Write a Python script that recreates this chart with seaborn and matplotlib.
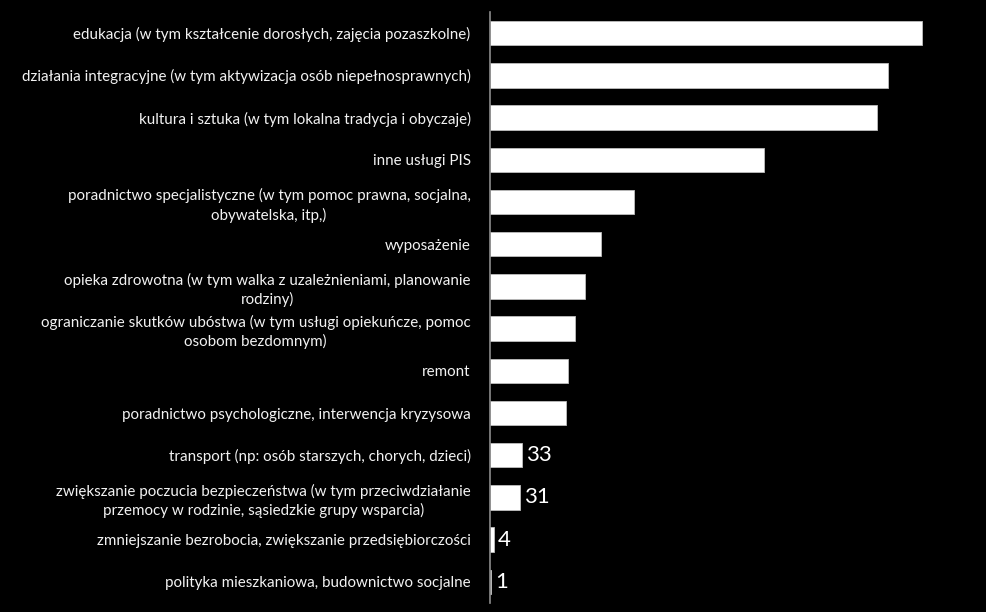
import numpy as np
import pandas as pd
import seaborn as sns
from matplotlib import pyplot as plt

categories = [
    "edukacja (w tym kształcenie dorosłych, zajęcia pozaszkolne)",
    "działania integracyjne (w tym aktywizacja osób niepełnosprawnych)",
    "kultura i sztuka (w tym lokalna tradycja i obyczaje)",
    "inne usługi PIS",
    "poradnictwo specjalistyczne (w tym pomoc prawna, socjalna,\nobywatelska, itp,)",
    "wyposażenie",
    "opieka zdrowotna (w tym walka z uzależnieniami, planowanie\nrodziny)",
    "ograniczanie skutków ubóstwa (w tym usługi opiekuńcze, pomoc\nosobom bezdomnym)",
    "remont",
    "poradnictwo psychologiczne, interwencja kryzysowa",
    "transport (np: osób starszych, chorych, dzieci)",
    "zwiększanie poczucia bezpieczeństwa (w tym przeciwdziałanie\nprzemocy w rodzinie, sąsiedzkie grupy wsparcia)",
    "zmniejszanie bezrobocia, zwiększanie przedsiębiorczości",
    "polityka mieszkaniowa, budownictwo socjalne",
]
counts = [449, 414, 402, 285, 150, 115, 99, 88, 81, 79, 33, 31, 4, 1]

df = pd.DataFrame({"kategoria": categories, "liczba": counts})

sns.set_style("dark")
plt.rcParams["font.family"] = ["Lato", "DejaVu Sans"]

fig = plt.figure(figsize=(9.87, 6.12), dpi=100, facecolor="black")
ax = fig.add_axes([490 / 987, 9 / 612, 485 / 987, 591 / 612])
ax.set_facecolor("black")

sns.barplot(data=df, y="kategoria", x="liczba", orient="h", color="white",
            width=0.58, edgecolor="#bfbfbf", linewidth=0.6, saturation=1, ax=ax)

# only the short bars show their value (the rest is white on white)
labels = [str(v) if v < 50 else "" for v in counts]
texts = ax.bar_label(ax.containers[0], labels=labels, padding=3, color="white", fontsize=16)
for t in texts:
    t.set_y(t.get_position()[1])

ax.set_xlim(0, 504)
ax.set_ylim(len(categories) - 0.5, -0.5)
ax.set_xlabel("")
ax.set_ylabel("")
ax.set_xticks([])
ax.grid(False)

for side in ["top", "right", "bottom"]:
    ax.spines[side].set_visible(False)
ax.spines["left"].set_color("#8c8c8c")
ax.spines["left"].set_linewidth(1.2)

ax.set_yticks(np.arange(len(categories)))
ax.set_yticklabels(categories, color="#f2f2f2", fontsize=10.9,
                   multialignment="center", linespacing=1.35)
ax.tick_params(axis="y", which="major", length=0, pad=14)
ax.set_yticks(np.arange(len(categories) + 1) - 0.5, minor=True)
ax.tick_params(axis="y", which="minor", length=5, color="#8c8c8c", width=1.2)

fig.savefig("out.png", dpi=100, facecolor="black")
